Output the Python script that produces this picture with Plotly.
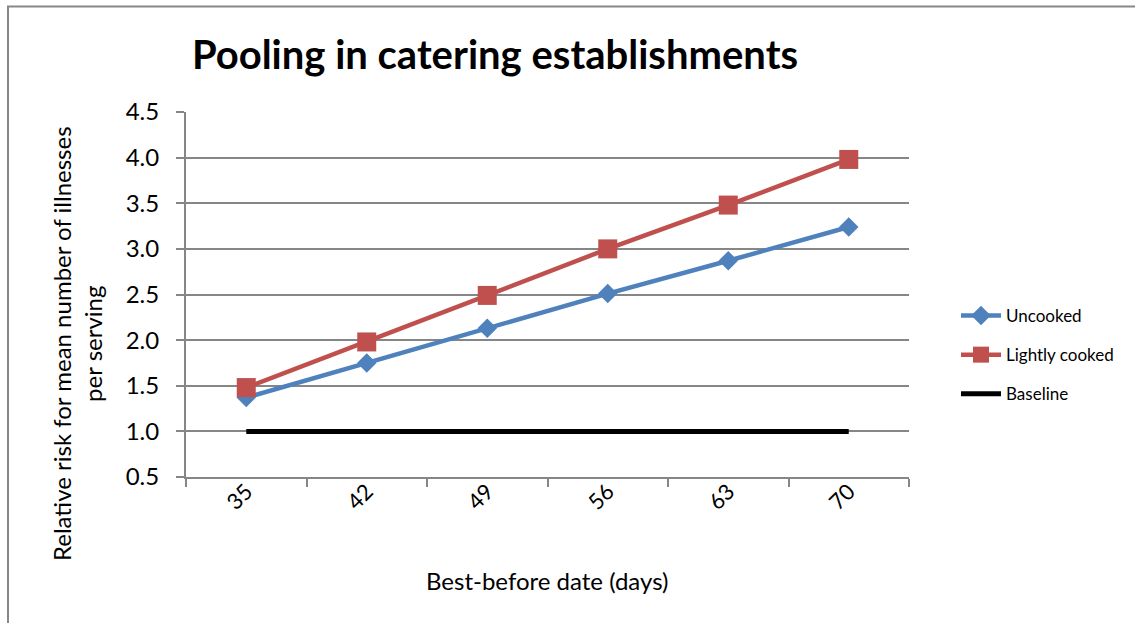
import plotly.graph_objects as go

days = ["35", "42", "49", "56", "63", "70"]
uncooked = [1.37, 1.75, 2.13, 2.51, 2.87, 3.24]
lightly_cooked = [1.48, 1.98, 2.49, 3.00, 3.48, 3.98]
baseline = [1.0, 1.0, 1.0, 1.0, 1.0, 1.0]

FONT = "Lato"
W, H = 1135, 623
ML, MR, MT, MB = 186, 226, 112, 146
PW, PH = W - ML - MR, H - MT - MB

def px_x(x):
    return (x - ML) / PW

def px_y(y):
    return (H - MB - y) / PH

fig = go.Figure()
fig.add_trace(go.Scatter(
    x=days, y=uncooked, name="Uncooked", mode="lines+markers",
    line=dict(color="#4F81BD", width=4.5),
    marker=dict(symbol="diamond", size=15, color="#4F81BD"),
    legendgroup="a"))
fig.add_trace(go.Scatter(
    x=days, y=lightly_cooked, name="Lightly cooked", mode="lines+markers",
    line=dict(color="#C0504D", width=4.5),
    marker=dict(symbol="square", size=19, color="#C0504D"),
    legendgroup="b"))
fig.add_trace(go.Scatter(
    x=days, y=baseline, name="Baseline", mode="lines",
    line=dict(color="#000000", width=5),
    legendgroup="c"))

fig.update_layout(
    width=W, height=H,
    margin=dict(l=ML, r=MR, t=MT, b=MB, autoexpand=False),
    paper_bgcolor="white", plot_bgcolor="white",
    font=dict(family=FONT, color="#000000"),
    title=dict(text="<b>Pooling in catering establishments</b>",
               font=dict(family=FONT, size=40, color="#000000"),
               xref="container", x=495 / W, xanchor="center",
               yref="container", y=1 - 55 / H, yanchor="middle"),
    showlegend=True,
    legend=dict(x=px_x(956), y=px_y(298), xanchor="left", yanchor="top",
                font=dict(family=FONT, size=17, color="#000000"),
                tracegroupgap=14, bgcolor="rgba(0,0,0,0)",
                itemwidth=40),
    xaxis=dict(
        type="category", range=[-0.5, 5.5],
        showgrid=False, showline=True, linecolor="#868686", linewidth=2,
        ticks="outside", ticklen=8, tickcolor="#868686", tickwidth=2,
        tickson="boundaries", tickangle=-45,
        tickfont=dict(family=FONT, size=22, color="#000000"),
        ticklabelstandoff=-9,
        zeroline=False,
    ),
    yaxis=dict(
        range=[0.5, 4.5], dtick=0.5, tick0=0.5, tickformat=".1f",
        showgrid=True, gridcolor="#868686", gridwidth=2,
        showline=True, linecolor="#868686", linewidth=2,
        ticks="outside", ticklen=8, tickcolor="#868686", tickwidth=2,
        tickfont=dict(family=FONT, size=24, color="#000000"),
        ticklabelstandoff=12,
        zeroline=False,
    ),
)

fig.add_annotation(
    text="Best-before date (days)",
    xref="paper", yref="paper", x=px_x(547), y=px_y(580),
    xanchor="center", yanchor="middle", showarrow=False,
    font=dict(family=FONT, size=24, color="#000000"))

fig.add_annotation(
    text="Relative risk for mean number of illnesses<br>per serving",
    xref="paper", yref="paper", x=px_x(77), y=px_y(344),
    xanchor="center", yanchor="middle", textangle=-90, showarrow=False,
    font=dict(family=FONT, size=24, color="#000000"))

fig.add_shape(type="rect", xref="paper", yref="paper",
              x0=px_x(8), x1=px_x(W + 10), y0=px_y(H + 10), y1=px_y(6.5),
              line=dict(color="#878787", width=2), layer="below")

fig.write_html("out.html", config={"displayModeBar": False},
               post_script="document.body.style.margin='0';document.body.style.padding='0';")
